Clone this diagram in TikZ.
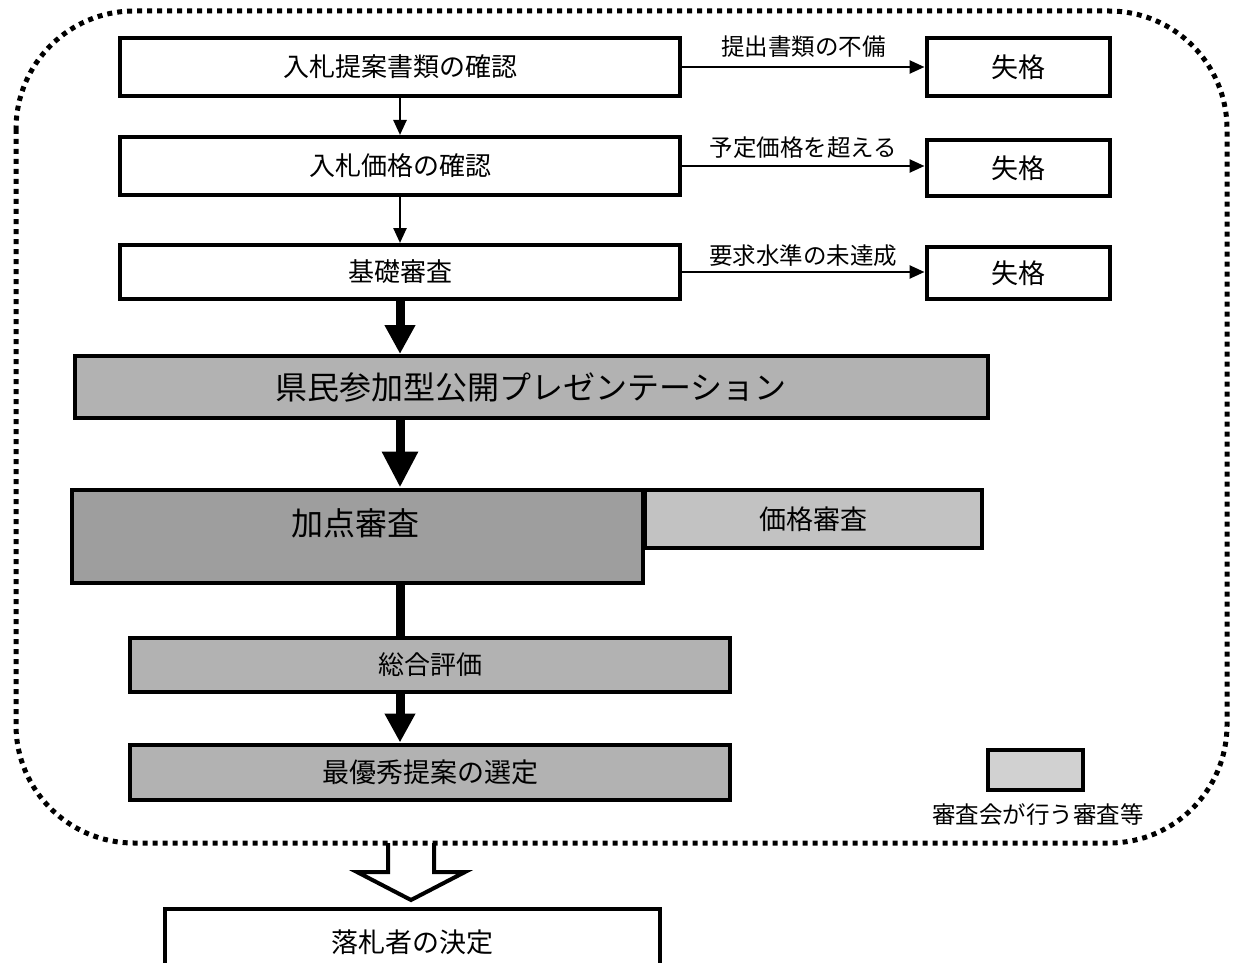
\documentclass[tikz,border=0pt]{standalone}
\usepackage{fontspec}
\setmainfont{Noto Sans CJK JP}
\usetikzlibrary{arrows.meta,calc}
\newcommand\fs[1]{\fontsize{#1}{#1}\selectfont}
\begin{document}
\begin{tikzpicture}[x=1pt,y=-1pt,
  box/.style={draw,line width=4pt,inner sep=0pt,font=\fs{26pt}},
  shade1/.style={fill=black!30},
  shade2/.style={fill=black!38},
  shade3/.style={fill=black!24},
  thinarr/.style={line width=2.5pt,-{Triangle[length=15pt,width=13pt]}},
  thickarr/.style={line width=9pt,-{Triangle[length=29pt,width=29pt]}},
  bigarr/.style={line width=9pt,-{Triangle[length=36pt,width=34pt]}},
  lbl/.style={font=\fs{23.5pt},inner sep=0pt}]
\useasboundingbox (0,0) rectangle (1235,963);
\fill[white] (0,0) rectangle (1235,963);
% dotted frame
\draw[line width=5pt,dash pattern=on 5pt off 5pt,rounded corners=118pt] (16,11) rectangle (1227,843);
% boxes
\node[box,minimum width=560pt,minimum height=58pt] (b1) at (400,67) {入札提案書類の確認};
\node[box,minimum width=560pt,minimum height=58pt] (b2) at (400,166) {入札価格の確認};
\node[box,minimum width=560pt,minimum height=54pt] (b3) at (400,272) {基礎審査};
\node[box,minimum width=183pt,minimum height=58pt,font=\fs{27pt}] (f1) at (1018,67) {失格};
\node[box,minimum width=183pt,minimum height=56pt,font=\fs{27pt}] (f2) at (1018,168) {失格};
\node[box,minimum width=183pt,minimum height=52pt,font=\fs{27pt}] (f3) at (1018,273) {失格};
\node[box,shade1,minimum width=913pt,minimum height=62pt,font=\fs{32pt}] (b4) at (531,387) {県民参加型公開プレゼンテーション};
\node[box,shade2,minimum width=571pt,minimum height=93pt,
  label={[font=\fs{32pt},inner sep=0pt,yshift=13pt,xshift=-2pt]center:加点審査}] (b5) at (357,536) {};
\node[box,shade3,minimum width=337pt,minimum height=58pt,font=\fs{27pt}] (b6) at (813,519) {価格審査};
\node[box,shade1,minimum width=600pt,minimum height=54pt,font=\fs{26pt}] (b7) at (430,665) {総合評価};
\node[box,shade1,minimum width=600pt,minimum height=55pt,font=\fs{27pt}] (b8) at (430,772) {最優秀提案の選定};
\node[box,minimum width=495pt,minimum height=66pt,font=\fs{27pt}] (b9) at (412,942) {落札者の決定};
% legend
\node[box,fill=black!18,minimum width=95pt,minimum height=40pt] (lg) at (1035,770) {};
\node[lbl] (lgt) at (1038,815) {審査会が行う審査等};
% thin arrows
\draw[thinarr] (b1.south) -- (b2.north);
\draw[thinarr] (b2.south) -- (b3.north);
\draw[thinarr] (b1.east) -- (f1.west);
\draw[thinarr] (b2.east) -- (b2.east -| f2.west);
\draw[thinarr] (b3.east) -- (b3.east -| f3.west);
\node[lbl] (l1) at ($(b1.east)!0.5!(f1.west)+(0,-20)$) {提出書類の不備};
\node[lbl] (l2) at ($(b2.east)!0.5!(b2.east -| f2.west)+(0,-18)$) {予定価格を超える};
\node[lbl] (l3) at ($(b3.east)!0.5!(b3.east -| f3.west)+(0,-16)$) {要求水準の未達成};
% thick arrows
\draw[thickarr] (b3.south) -- (b3.south |- b4.north);
\draw[bigarr] (b4.south -| b3.south) -- (b3.south |- b5.north);
\draw[line width=9pt] (b5.south -| b3.south) -- (b3.south |- b7.north);
\draw[thickarr] (b7.south -| b3.south) -- (b3.south |- b8.north);
% hollow block arrow
\coordinate (ba) at (411,843);
\draw[line width=4pt,line join=miter]
  ($(ba)+(-23,0)$) -- ($(ba)+(-23,29)$) -- ($(ba)+(-54,29)$) -- ($(ba)+(0,57)$)
  -- ($(ba)+(54,29)$) -- ($(ba)+(23,29)$) -- ($(ba)+(23,0)$);
\end{tikzpicture}
\end{document}
